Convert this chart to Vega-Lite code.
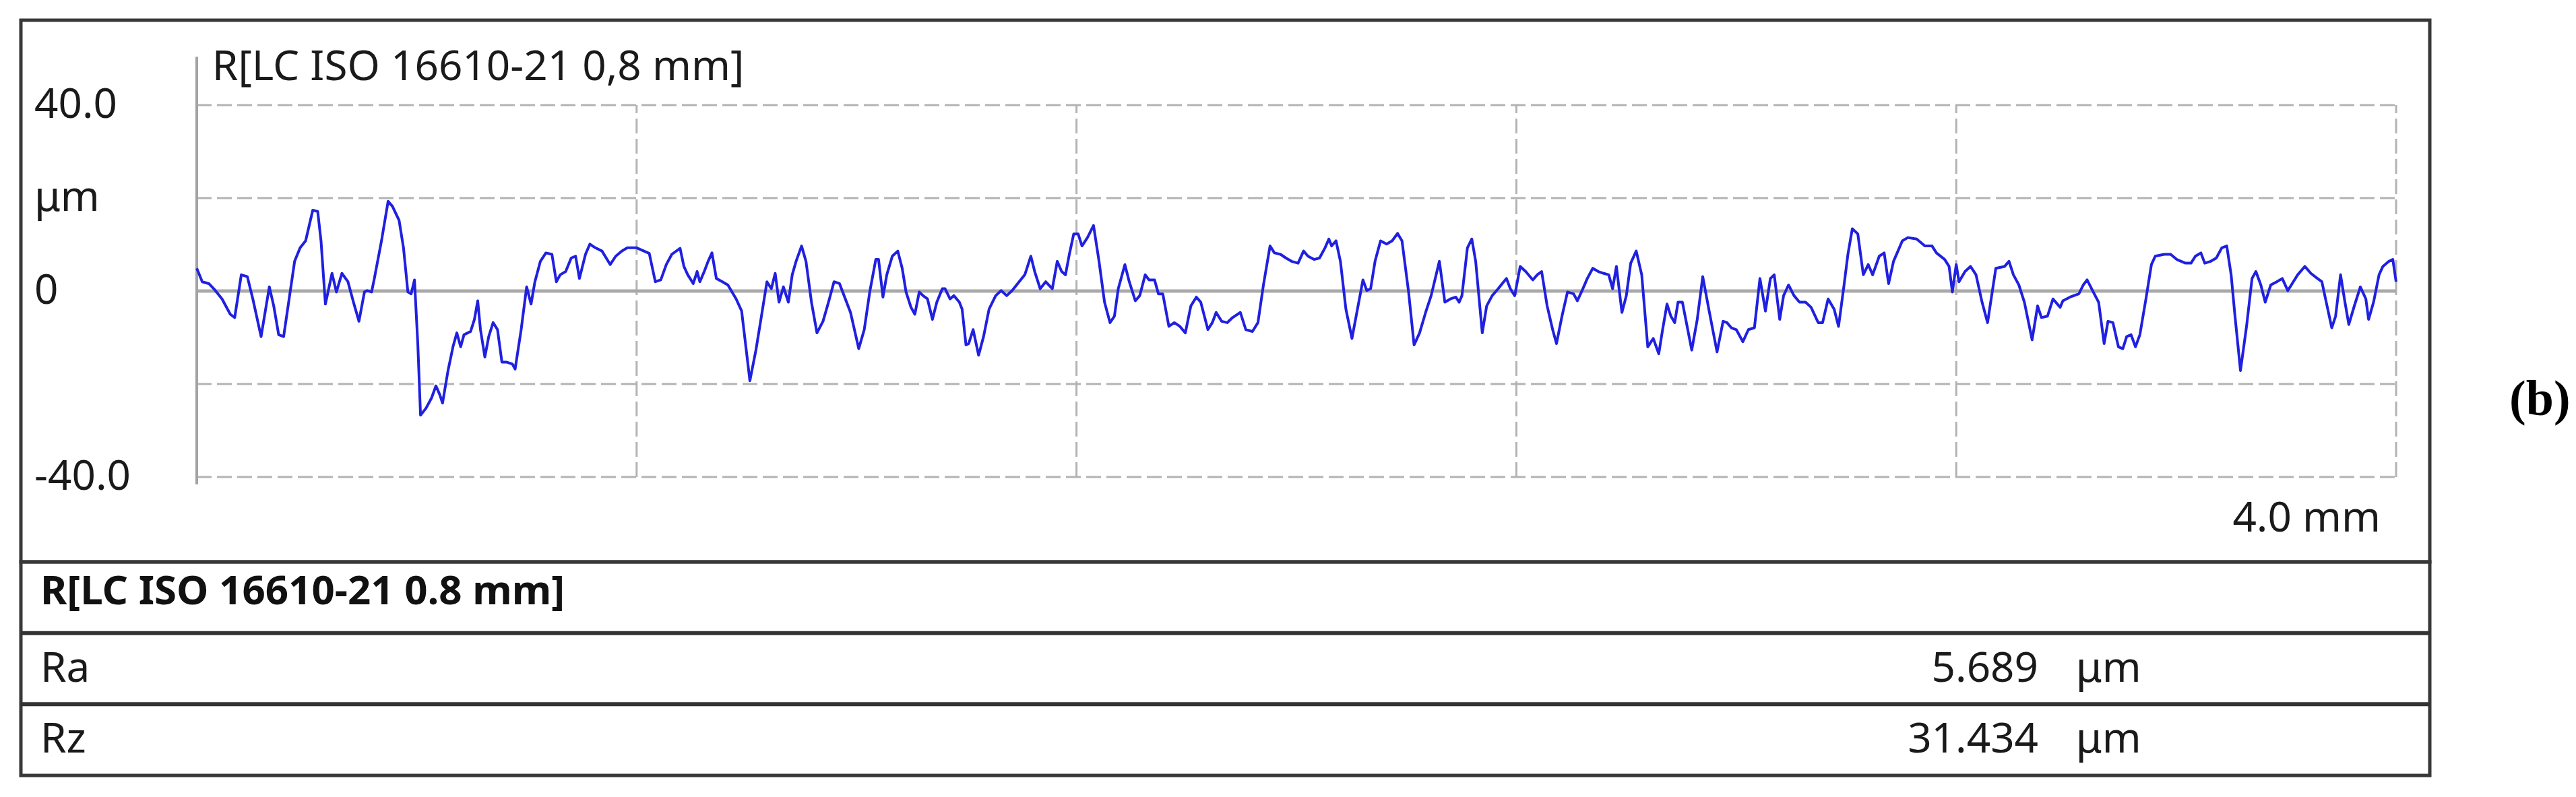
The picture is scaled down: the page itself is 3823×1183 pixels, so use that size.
{
  "$schema": "https://vega.github.io/schema/vega-lite/v6.json",
  "background": "white",
  "padding": {"left": 25, "top": 27, "right": 5, "bottom": 5},
  "bounds": "flush",
  "spacing": 0,
  "config": {
    "view": {"stroke": "#383838", "strokeWidth": 5},
    "font": "Noto Sans",
    "text": {"font": "Noto Sans", "color": "#1a1a1a"}
  },
  "datasets": {
    "profile": [
      {"x":0.000,"y":4.9},{"x":0.010,"y":2.0},{"x":0.022,"y":1.6},{"x":0.031,"y":0.5},{"x":0.046,"y":-1.7},{"x":0.061,"y":-5.0},{"x":0.069,"y":-5.7},{"x":0.081,"y":3.5},{"x":0.092,"y":3.1},{"x":0.102,"y":-1.7},{"x":0.117,"y":-9.8},{"x":0.132,"y":0.9},{"x":0.140,"y":-3.2},{"x":0.149,"y":-9.4},{"x":0.158,"y":-9.8},{"x":0.168,"y":-1.7},{"x":0.178,"y":6.4},{"x":0.188,"y":9.3},{"x":0.198,"y":10.8},{"x":0.211,"y":17.4},{"x":0.220,"y":17.1},{"x":0.226,"y":10.8},{"x":0.234,"y":-2.8},{"x":0.246,"y":3.8},{"x":0.254,"y":-0.2},{"x":0.264,"y":3.8},{"x":0.275,"y":2.0},{"x":0.285,"y":-2.4},{"x":0.295,"y":-6.5},{"x":0.305,"y":-0.2},{"x":0.310,"y":0.1},{"x":0.318,"y":-0.2},{"x":0.323,"y":2.7},{"x":0.336,"y":10.8},{"x":0.348,"y":19.3},{"x":0.356,"y":18.2},{"x":0.368,"y":15.2},{"x":0.376,"y":9.3},{"x":0.384,"y":-0.2},{"x":0.390,"y":-0.6},{"x":0.396,"y":2.4},{"x":0.402,"y":-11.3},{"x":0.407,"y":-26.7},{"x":0.417,"y":-25.2},{"x":0.427,"y":-23.0},{"x":0.435,"y":-20.4},{"x":0.442,"y":-22.3},{"x":0.447,"y":-24.1},{"x":0.457,"y":-17.1},{"x":0.466,"y":-12.0},{"x":0.473,"y":-9.0},{"x":0.480,"y":-12.0},{"x":0.486,"y":-9.4},{"x":0.498,"y":-8.7},{"x":0.505,"y":-6.1},{"x":0.511,"y":-2.1},{"x":0.516,"y":-8.3},{"x":0.524,"y":-14.2},{"x":0.531,"y":-9.8},{"x":0.539,"y":-6.8},{"x":0.547,"y":-8.3},{"x":0.555,"y":-15.3},{"x":0.564,"y":-15.3},{"x":0.574,"y":-15.7},{"x":0.579,"y":-16.8},{"x":0.590,"y":-8.3},{"x":0.600,"y":0.9},{"x":0.608,"y":-2.8},{"x":0.615,"y":2.0},{"x":0.625,"y":6.4},{"x":0.635,"y":8.2},{"x":0.646,"y":7.9},{"x":0.654,"y":2.0},{"x":0.661,"y":3.5},{"x":0.671,"y":4.2},{"x":0.681,"y":7.1},{"x":0.689,"y":7.5},{"x":0.696,"y":2.7},{"x":0.707,"y":7.9},{"x":0.715,"y":10.1},{"x":0.725,"y":9.3},{"x":0.737,"y":8.6},{"x":0.752,"y":5.7},{"x":0.762,"y":7.5},{"x":0.773,"y":8.6},{"x":0.783,"y":9.3},{"x":0.800,"y":9.3},{"x":0.823,"y":8.1},{"x":0.834,"y":2.0},{"x":0.844,"y":2.4},{"x":0.854,"y":5.7},{"x":0.864,"y":7.9},{"x":0.879,"y":9.2},{"x":0.886,"y":5.3},{"x":0.893,"y":3.5},{"x":0.903,"y":1.6},{"x":0.910,"y":4.2},{"x":0.915,"y":2.0},{"x":0.923,"y":4.2},{"x":0.930,"y":6.4},{"x":0.937,"y":8.2},{"x":0.945,"y":2.7},{"x":0.956,"y":2.0},{"x":0.966,"y":1.3},{"x":0.981,"y":-1.7},{"x":0.991,"y":-4.3},{"x":1.006,"y":-19.3},{"x":1.017,"y":-12.7},{"x":1.027,"y":-5.4},{"x":1.037,"y":2.0},{"x":1.045,"y":0.5},{"x":1.052,"y":3.8},{"x":1.059,"y":-2.4},{"x":1.067,"y":0.9},{"x":1.076,"y":-2.4},{"x":1.083,"y":3.5},{"x":1.090,"y":6.4},{"x":1.100,"y":9.7},{"x":1.108,"y":6.4},{"x":1.118,"y":-2.4},{"x":1.128,"y":-9.0},{"x":1.139,"y":-6.5},{"x":1.149,"y":-2.4},{"x":1.159,"y":2.0},{"x":1.169,"y":1.6},
      {"x":1.189,"y":-4.6},{"x":1.204,"y":-12.4},{"x":1.214,"y":-8.3},{"x":1.224,"y":-0.2},{"x":1.235,"y":6.8},{"x":1.240,"y":6.8},{"x":1.248,"y":-1.3},{"x":1.255,"y":3.5},{"x":1.265,"y":7.5},{"x":1.275,"y":8.6},{"x":1.283,"y":4.9},{"x":1.290,"y":-0.2},{"x":1.299,"y":-3.5},{"x":1.306,"y":-5.0},{"x":1.314,"y":-0.2},{"x":1.321,"y":-1.0},{"x":1.329,"y":-1.7},{"x":1.338,"y":-6.1},{"x":1.346,"y":-2.4},{"x":1.356,"y":0.5},{"x":1.361,"y":0.5},{"x":1.370,"y":-1.7},{"x":1.377,"y":-1.0},{"x":1.387,"y":-2.4},{"x":1.392,"y":-3.9},{"x":1.399,"y":-11.6},{"x":1.404,"y":-11.3},{"x":1.412,"y":-8.3},{"x":1.422,"y":-13.8},{"x":1.431,"y":-9.8},{"x":1.441,"y":-3.9},{"x":1.453,"y":-1.0},{"x":1.463,"y":0.1},{"x":1.473,"y":-1.0},{"x":1.483,"y":0.1},{"x":1.493,"y":1.6},{"x":1.506,"y":3.5},{"x":1.517,"y":7.5},{"x":1.524,"y":4.2},{"x":1.534,"y":0.5},{"x":1.544,"y":2.0},{"x":1.556,"y":0.5},{"x":1.565,"y":6.4},{"x":1.573,"y":4.2},{"x":1.580,"y":3.5},{"x":1.587,"y":7.9},{"x":1.595,"y":12.3},{"x":1.603,"y":12.3},{"x":1.610,"y":9.7},{"x":1.620,"y":11.5},{"x":1.631,"y":14.1},{"x":1.641,"y":6.4},{"x":1.651,"y":-2.4},{"x":1.661,"y":-6.8},{"x":1.669,"y":-5.4},{"x":1.676,"y":0.5},{"x":1.688,"y":5.7},{"x":1.696,"y":2.0},{"x":1.707,"y":-2.1},{"x":1.715,"y":-1.0},{"x":1.725,"y":3.5},{"x":1.732,"y":2.4},{"x":1.742,"y":2.4},{"x":1.749,"y":-0.6},{"x":1.757,"y":-0.6},{"x":1.768,"y":-7.6},{"x":1.778,"y":-6.8},{"x":1.788,"y":-7.6},{"x":1.798,"y":-9.0},{"x":1.808,"y":-3.2},{"x":1.818,"y":-1.3},{"x":1.826,"y":-2.4},{"x":1.839,"y":-8.3},{"x":1.847,"y":-6.8},{"x":1.854,"y":-4.6},{"x":1.864,"y":-6.5},{"x":1.874,"y":-6.8},{"x":1.884,"y":-5.7},{"x":1.898,"y":-4.6},{"x":1.908,"y":-8.3},{"x":1.920,"y":-8.7},{"x":1.930,"y":-6.8},{"x":1.940,"y":1.3},{"x":1.952,"y":9.7},{"x":1.960,"y":8.2},{"x":1.971,"y":7.9},{"x":1.981,"y":7.1},{"x":1.991,"y":6.4},{"x":2.003,"y":6.0},{"x":2.013,"y":8.6},{"x":2.021,"y":7.5},{"x":2.032,"y":6.8},{"x":2.042,"y":7.1},{"x":2.052,"y":9.3},{"x":2.059,"y":11.2},{"x":2.064,"y":9.7},{"x":2.072,"y":10.8},{"x":2.080,"y":6.4},{"x":2.090,"y":-3.9},{"x":2.101,"y":-10.2},{"x":2.111,"y":-3.9},{"x":2.121,"y":2.4},{"x":2.128,"y":0.1},{"x":2.135,"y":0.5},{"x":2.143,"y":6.4},{"x":2.153,"y":10.8},{"x":2.164,"y":10.1},{"x":2.174,"y":10.8},{"x":2.184,"y":12.4},{"x":2.192,"y":10.8},{"x":2.204,"y":-0.2},{"x":2.214,"y":-11.6},{"x":2.224,"y":-9.0},{"x":2.235,"y":-4.6},{"x":2.245,"y":-1.0},{"x":2.260,"y":6.4},{"x":2.270,"y":-2.4},{"x":2.280,"y":-1.7},{"x":2.290,"y":-1.3},{"x":2.296,"y":-2.4},{"x":2.301,"y":-1.0},{"x":2.311,"y":9.3},{"x":2.319,"y":11.2},{"x":2.326,"y":6.4},{"x":2.338,"y":-9.0},{"x":2.346,"y":-3.2},{"x":2.356,"y":-1.0},{"x":2.367,"y":0.5},{"x":2.377,"y":2.0},{"x":2.382,"y":2.7},{"x":2.389,"y":0.5},{"x":2.397,"y":-1.0},{"x":2.407,"y":5.3},{"x":2.417,"y":4.2},{"x":2.430,"y":2.4},{"x":2.438,"y":3.5},{"x":2.446,"y":4.2},{"x":2.456,"y":-3.2},{"x":2.466,"y":-8.3},{"x":2.473,"y":-11.3},{"x":2.483,"y":-5.4},{"x":2.493,"y":-0.2},{"x":2.504,"y":-0.6},{"x":2.511,"y":-2.1},{"x":2.521,"y":0.5},{"x":2.529,"y":2.7},{"x":2.539,"y":4.9},{"x":2.549,"y":4.2},{"x":2.559,"y":3.8},{"x":2.568,"y":3.5},{"x":2.575,"y":0.5},{"x":2.582,"y":5.3},{"x":2.592,"y":-4.6},{"x":2.600,"y":-1.0},{"x":2.608,"y":6.0},{"x":2.618,"y":8.6},{"x":2.628,"y":3.5},{"x":2.639,"y":-12.0},{"x":2.649,"y":-10.2},{"x":2.659,"y":-13.5},{"x":2.666,"y":-8.3},{"x":2.674,"y":-2.8},{"x":2.681,"y":-5.4},{"x":2.688,"y":-6.8},{"x":2.694,"y":-2.4},{"x":2.702,"y":-2.4},
      {"x":2.719,"y":-12.7},{"x":2.729,"y":-6.1},{"x":2.739,"y":3.1},{"x":2.750,"y":-3.9},{"x":2.765,"y":-13.1},{"x":2.776,"y":-6.5},{"x":2.783,"y":-6.8},{"x":2.791,"y":-7.9},{"x":2.800,"y":-8.3},{"x":2.812,"y":-10.9},{"x":2.822,"y":-8.3},{"x":2.833,"y":-7.9},{"x":2.843,"y":2.7},{"x":2.853,"y":-4.3},{"x":2.862,"y":2.7},{"x":2.869,"y":3.5},{"x":2.879,"y":-6.1},{"x":2.886,"y":-1.0},{"x":2.895,"y":1.3},{"x":2.905,"y":-1.0},{"x":2.915,"y":-2.4},{"x":2.926,"y":-2.4},{"x":2.936,"y":-3.5},{"x":2.949,"y":-6.8},{"x":2.957,"y":-6.8},{"x":2.967,"y":-1.7},{"x":2.978,"y":-3.9},{"x":2.986,"y":-7.6},{"x":2.996,"y":1.3},{"x":3.003,"y":7.9},{"x":3.011,"y":13.4},{"x":3.021,"y":12.3},{"x":3.031,"y":3.5},{"x":3.040,"y":5.7},{"x":3.048,"y":3.5},{"x":3.060,"y":7.5},{"x":3.069,"y":8.2},{"x":3.077,"y":1.6},{"x":3.086,"y":6.4},{"x":3.102,"y":10.8},{"x":3.112,"y":11.5},{"x":3.128,"y":11.2},{"x":3.143,"y":9.7},{"x":3.156,"y":9.7},{"x":3.164,"y":8.2},{"x":3.179,"y":6.8},{"x":3.187,"y":5.3},{"x":3.193,"y":-0.2},{"x":3.200,"y":5.7},{"x":3.205,"y":2.0},{"x":3.216,"y":4.2},{"x":3.226,"y":5.3},{"x":3.236,"y":3.5},{"x":3.247,"y":-2.4},{"x":3.257,"y":-6.8},{"x":3.272,"y":4.9},{"x":3.288,"y":5.3},{"x":3.296,"y":6.4},{"x":3.304,"y":3.5},{"x":3.314,"y":1.3},{"x":3.324,"y":-2.4},{"x":3.338,"y":-10.5},{"x":3.348,"y":-3.2},{"x":3.355,"y":-5.7},{"x":3.366,"y":-5.4},{"x":3.376,"y":-1.7},{"x":3.389,"y":-3.5},{"x":3.394,"y":-2.1},{"x":3.407,"y":-1.3},{"x":3.423,"y":-0.6},{"x":3.431,"y":1.3},{"x":3.438,"y":2.4},{"x":3.448,"y":0.1},{"x":3.459,"y":-2.4},{"x":3.469,"y":-11.3},{"x":3.476,"y":-6.5},{"x":3.485,"y":-6.8},{"x":3.495,"y":-12.0},{"x":3.503,"y":-12.4},{"x":3.510,"y":-9.8},{"x":3.518,"y":-9.4},{"x":3.526,"y":-12.0},{"x":3.534,"y":-9.4},{"x":3.545,"y":-1.7},{"x":3.555,"y":5.7},{"x":3.562,"y":7.5},{"x":3.578,"y":7.9},{"x":3.590,"y":7.9},{"x":3.601,"y":6.8},{"x":3.609,"y":6.4},{"x":3.617,"y":6.0},{"x":3.627,"y":6.0},{"x":3.635,"y":7.5},{"x":3.645,"y":8.2},{"x":3.652,"y":6.0},{"x":3.663,"y":6.4},{"x":3.673,"y":7.1},{"x":3.683,"y":9.3},{"x":3.692,"y":9.7},{"x":3.700,"y":3.5},{"x":3.707,"y":-5.4},{"x":3.717,"y":-17.1},{"x":3.728,"y":-7.6},{"x":3.738,"y":2.7},{"x":3.745,"y":4.2},{"x":3.754,"y":1.3},{"x":3.762,"y":-2.4},{"x":3.772,"y":1.3},{"x":3.783,"y":2.0},{"x":3.793,"y":2.7},{"x":3.803,"y":0.1},{"x":3.811,"y":1.6},{"x":3.821,"y":3.5},{"x":3.834,"y":5.3},{"x":3.845,"y":3.8},{"x":3.857,"y":2.7},{"x":3.865,"y":2.0},{"x":3.873,"y":-2.4},{"x":3.883,"y":-7.9},{"x":3.890,"y":-5.4},{"x":3.899,"y":3.5},{"x":3.907,"y":-2.4},{"x":3.914,"y":-7.2},{"x":3.924,"y":-3.2},{"x":3.935,"y":0.9},{"x":3.945,"y":-1.7},{"x":3.950,"y":-6.1},{"x":3.959,"y":-2.4},{"x":3.969,"y":3.5},{"x":3.976,"y":5.3},{"x":3.987,"y":6.4},{"x":3.994,"y":6.8},{"x":4.000,"y":2.0}
    ]
  },
  "vconcat": [
    {
      "width": 3575,
      "height": 804,
      "layer": [
        {
          "data": {"values": [{"v": 40}, {"v": 20}, {"v": -20}, {"v": -40}]},
          "mark": {"type": "rule", "color": "#b3b3b3", "strokeWidth": 3, "strokeDash": [22, 8]},
          "encoding": {
            "y": {"field": "v", "type": "quantitative", "scale": {"domain": [-58.26, 58.26], "nice": false, "zero": false}, "axis": null},
            "x": {"datum": 0, "type": "quantitative", "scale": {"domain": [-0.31985, 4.06127], "nice": false, "zero": false}, "axis": null},
            "x2": {"datum": 4}
          }
        },
        {
          "data": {"values": [{"u": 0.8}, {"u": 1.6}, {"u": 2.4}, {"u": 3.2}, {"u": 4.0}]},
          "mark": {"type": "rule", "color": "#b3b3b3", "strokeWidth": 3, "strokeDash": [22, 8]},
          "encoding": {
            "x": {"field": "u", "type": "quantitative", "scale": {"domain": [-0.31985, 4.06127], "nice": false, "zero": false}, "axis": null},
            "y": {"datum": -40, "type": "quantitative", "scale": {"domain": [-58.26, 58.26], "nice": false, "zero": false}, "axis": null},
            "y2": {"datum": 40}
          }
        },
        {
          "data": {"values": [{"v": 0}]},
          "mark": {"type": "rule", "color": "#a9a9a9", "strokeWidth": 5},
          "encoding": {
            "y": {"field": "v", "type": "quantitative", "scale": {"domain": [-58.26, 58.26], "nice": false, "zero": false}, "axis": null},
            "x": {"datum": 0, "type": "quantitative", "scale": {"domain": [-0.31985, 4.06127], "nice": false, "zero": false}, "axis": null},
            "x2": {"datum": 4}
          }
        },
        {
          "data": {"values": [{"v": 0}]},
          "mark": {"type": "rule", "color": "#a3a3a3", "strokeWidth": 4},
          "encoding": {
            "x": {"field": "v", "type": "quantitative", "scale": {"domain": [-0.31985, 4.06127], "nice": false, "zero": false}, "axis": null},
            "y": {"datum": -41.6, "type": "quantitative", "scale": {"domain": [-58.26, 58.26], "nice": false, "zero": false}, "axis": null},
            "y2": {"datum": 50.4}
          }
        },
        {
          "data": {"name": "profile"},
          "mark": {"type": "line", "color": "#2020e0", "strokeWidth": 4, "strokeJoin": "round"},
          "encoding": {
            "x": {"field": "x", "type": "quantitative", "scale": {"domain": [-0.31985, 4.06127], "nice": false, "zero": false}, "axis": null},
            "y": {"field": "y", "type": "quantitative", "scale": {"domain": [-58.26, 58.26], "nice": false, "zero": false}, "axis": null}
          }
        },
        {
          "data": {"values": [{"v": 40, "label": "40.0"}, {"v": 20, "label": "μm"}, {"v": 0, "label": "0"}, {"v": -40, "label": "-40.0"}]},
          "mark": {"type": "text", "align": "left", "baseline": "middle", "fontSize": 62, "font": "Noto Sans", "color": "#1a1a1a"},
          "encoding": {
            "x": {"datum": -0.2953, "type": "quantitative", "scale": {"domain": [-0.31985, 4.06127], "nice": false, "zero": false}, "axis": null},
            "y": {"field": "v", "type": "quantitative", "scale": {"domain": [-58.26, 58.26], "nice": false, "zero": false}, "axis": null},
            "text": {"field": "label"}
          }
        },
        {
          "data": {"values": [{"t": "4.0 mm"}]},
          "mark": {"type": "text", "align": "right", "baseline": "alphabetic", "fontSize": 62, "font": "Noto Sans", "color": "#1a1a1a"},
          "encoding": {
            "x": {"datum": 3.9718, "type": "quantitative", "scale": {"domain": [-0.31985, 4.06127], "nice": false, "zero": false}, "axis": null},
            "y": {"datum": -51.74, "type": "quantitative", "scale": {"domain": [-58.26, 58.26], "nice": false, "zero": false}, "axis": null},
            "text": {"field": "t"}
          }
        },
        {
          "data": {"values": [{"t": "R[LC ISO 16610-21 0,8 mm]"}]},
          "mark": {"type": "text", "align": "left", "baseline": "alphabetic", "fontSize": 62, "font": "Noto Sans", "color": "#1a1a1a"},
          "encoding": {
            "x": {"datum": 0.028, "type": "quantitative", "scale": {"domain": [-0.31985, 4.06127], "nice": false, "zero": false}, "axis": null},
            "y": {"datum": 45.36, "type": "quantitative", "scale": {"domain": [-58.26, 58.26], "nice": false, "zero": false}, "axis": null},
            "text": {"field": "t"}
          }
        },
        {
          "data": {"values": [{"t": "(b)"}]},
          "mark": {"type": "text", "align": "left", "baseline": "middle", "fontSize": 74, "font": "Liberation Serif", "fontWeight": "bold", "color": "#000000"},
          "encoding": {
            "x": {"datum": 4.206, "type": "quantitative", "scale": {"domain": [-0.31985, 4.06127], "nice": false, "zero": false}, "axis": null},
            "y": {"datum": -23.5, "type": "quantitative", "scale": {"domain": [-58.26, 58.26], "nice": false, "zero": false}, "axis": null},
            "text": {"field": "t"}
          }
        }
      ]
    },
    {
      "width": 3575,
      "height": 317,
      "data": {"values": [
        {"name": "header", "label": "R[LC ISO 16610-21 0.8 mm]", "value": "", "unit": ""},
        {"name": "Ra", "label": "Ra", "value": "5.689", "unit": "μm"},
        {"name": "Rz", "label": "Rz", "value": "31.434", "unit": "μm"}
      ]},
      "layer": [
        {
          "transform": [{"filter": "datum.name != 'header'"}],
          "mark": {"type": "rule", "color": "#333333", "strokeWidth": 6},
          "encoding": {
            "y": {"field": "name", "type": "nominal", "bandPosition": 0, "scale": {"type": "band", "domain": ["header", "Ra", "Rz"], "paddingInner": 0, "paddingOuter": 0}, "axis": null}
          }
        },
        {
          "transform": [{"filter": "datum.name == 'header'"}],
          "mark": {"type": "text", "align": "left", "baseline": "middle", "fontSize": 60, "fontWeight": "bold", "dy": -8, "font": "Noto Sans", "color": "#111111"},
          "encoding": {
            "x": {"datum": 0.0081, "type": "quantitative", "scale": {"domain": [0, 1], "nice": false, "zero": false}, "axis": null},
            "y": {"field": "name", "type": "nominal", "scale": {"type": "band", "domain": ["header", "Ra", "Rz"], "paddingInner": 0, "paddingOuter": 0}, "axis": null},
            "text": {"field": "label"}
          }
        },
        {
          "transform": [{"filter": "datum.name != 'header'"}],
          "mark": {"type": "text", "align": "left", "baseline": "middle", "fontSize": 62, "font": "Noto Sans", "color": "#1a1a1a"},
          "encoding": {
            "x": {"datum": 0.0081, "type": "quantitative", "scale": {"domain": [0, 1], "nice": false, "zero": false}, "axis": null},
            "y": {"field": "name", "type": "nominal", "scale": {"type": "band", "domain": ["header", "Ra", "Rz"], "paddingInner": 0, "paddingOuter": 0}, "axis": null},
            "text": {"field": "label"}
          }
        },
        {
          "transform": [{"filter": "datum.name != 'header'"}],
          "mark": {"type": "text", "align": "right", "baseline": "middle", "fontSize": 62, "font": "Noto Sans", "color": "#1a1a1a"},
          "encoding": {
            "x": {"datum": 0.8375, "type": "quantitative", "scale": {"domain": [0, 1], "nice": false, "zero": false}, "axis": null},
            "y": {"field": "name", "type": "nominal", "scale": {"type": "band", "domain": ["header", "Ra", "Rz"], "paddingInner": 0, "paddingOuter": 0}, "axis": null},
            "text": {"field": "value"}
          }
        },
        {
          "transform": [{"filter": "datum.name != 'header'"}],
          "mark": {"type": "text", "align": "left", "baseline": "middle", "fontSize": 62, "font": "Noto Sans", "color": "#1a1a1a"},
          "encoding": {
            "x": {"datum": 0.8531, "type": "quantitative", "scale": {"domain": [0, 1], "nice": false, "zero": false}, "axis": null},
            "y": {"field": "name", "type": "nominal", "scale": {"type": "band", "domain": ["header", "Ra", "Rz"], "paddingInner": 0, "paddingOuter": 0}, "axis": null},
            "text": {"field": "unit"}
          }
        }
      ]
    }
  ]
}
